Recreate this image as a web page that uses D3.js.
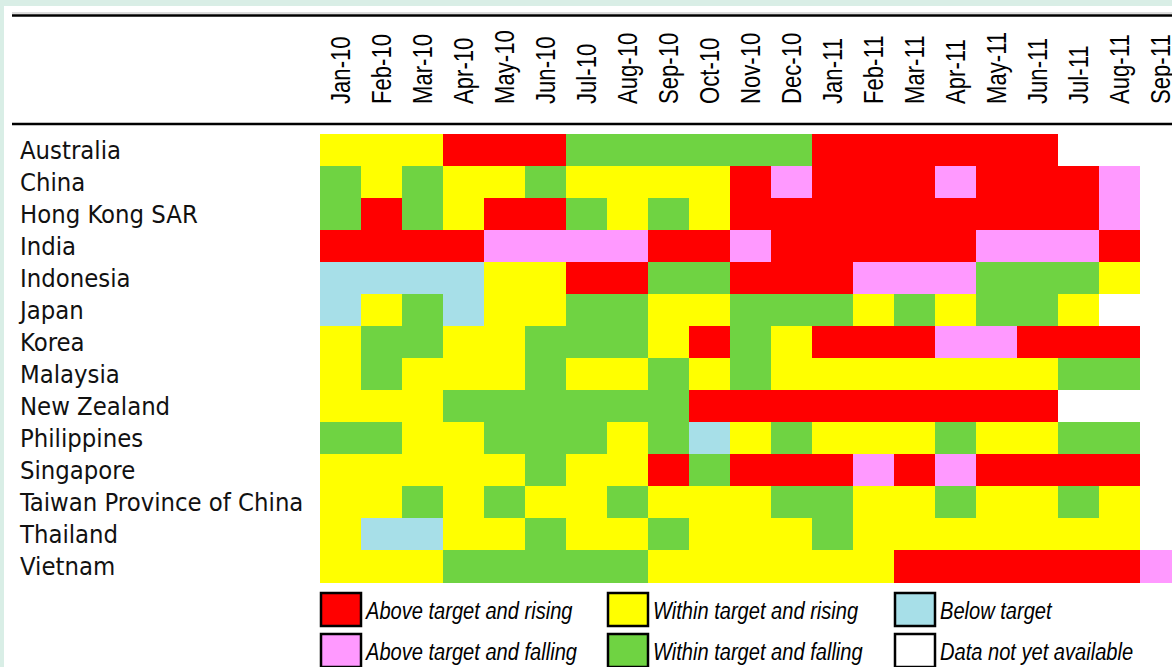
<!DOCTYPE html>
<html>
<head>
<meta charset="utf-8">
<script src="https://cdn.jsdelivr.net/npm/d3@7"></script>
<style>
  html, body { margin: 0; padding: 0; background: #d9eee6; }
  svg { display: block; }
</style>
</head>
<body>
<script>
// months shown across the top
const months = ["Jan-10","Feb-10","Mar-10","Apr-10","May-10","Jun-10","Jul-10","Aug-10","Sep-10","Oct-10","Nov-10","Dec-10",
                "Jan-11","Feb-11","Mar-11","Apr-11","May-11","Jun-11","Jul-11","Aug-11","Sep-11"];

const countries = ["Australia","China","Hong Kong SAR","India","Indonesia","Japan","Korea","Malaysia",
                   "New Zealand","Philippines","Singapore","Taiwan Province of China","Thailand","Vietnam"];

// status codes : AR above & rising, AF above & falling, WR within & rising, WF within & falling, BT below, NA no data
const statusRows = [
  ["WR","WR","WR","AR","AR","AR","WF","WF","WF","WF","WF","WF","AR","AR","AR","AR","AR","AR","NA","NA","NA"],
  ["WF","WR","WF","WR","WR","WF","WR","WR","WR","WR","AR","AF","AR","AR","AR","AF","AR","AR","AR","AF","NA"],
  ["WF","AR","WF","WR","AR","AR","WF","WR","WF","WR","AR","AR","AR","AR","AR","AR","AR","AR","AR","AF","NA"],
  ["AR","AR","AR","AR","AF","AF","AF","AF","AR","AR","AF","AR","AR","AR","AR","AR","AF","AF","AF","AR","NA"],
  ["BT","BT","BT","BT","WR","WR","AR","AR","WF","WF","AR","AR","AR","AF","AF","AF","WF","WF","WF","WR","NA"],
  ["BT","WR","WF","BT","WR","WR","WF","WF","WR","WR","WF","WF","WF","WR","WF","WR","WF","WF","WR","NA","NA"],
  ["WR","WF","WF","WR","WR","WF","WF","WF","WR","AR","WF","WR","AR","AR","AR","AF","AF","AR","AR","AR","NA"],
  ["WR","WF","WR","WR","WR","WF","WR","WR","WF","WR","WF","WR","WR","WR","WR","WR","WR","WR","WF","WF","NA"],
  ["WR","WR","WR","WF","WF","WF","WF","WF","WF","AR","AR","AR","AR","AR","AR","AR","AR","AR","NA","NA","NA"],
  ["WF","WF","WR","WR","WF","WF","WF","WR","WF","BT","WR","WF","WR","WR","WR","WF","WR","WR","WF","WF","NA"],
  ["WR","WR","WR","WR","WR","WF","WR","WR","AR","WF","AR","AR","AR","AF","AR","AF","AR","AR","AR","AR","NA"],
  ["WR","WR","WF","WR","WF","WR","WR","WF","WR","WR","WR","WF","WF","WR","WR","WF","WR","WR","WF","WR","NA"],
  ["WR","BT","BT","WR","WR","WF","WR","WR","WF","WR","WR","WR","WF","WR","WR","WR","WR","WR","WR","WR","NA"],
  ["WR","WR","WR","WF","WF","WF","WF","WF","WR","WR","WR","WR","WR","WR","AR","AR","AR","AR","AR","AR","AF"]
];

// legend, in reading order (column by column)
const legendKeys   = ["AR","AF","WR","WF","BT","NA"];
const legendLabels = ["Above target and rising","Above target and falling","Within target and rising",
                      "Within target and falling","Below target","Data not yet available"];

const colors = { AR: "#ff0000", AF: "#ff99ff", WR: "#ffff00", WF: "#6fd342", BT: "#a7dfe8", NA: "#ffffff" };

const width = 1172, height = 667;
const narrow = 0.82; // squeeze factor to mimic the condensed face of the original
const svg = d3.select("body").append("svg")
    .attr("width", width)
    .attr("height", height);

// white panel
svg.append("rect")
    .attr("x", 4).attr("y", 6)
    .attr("width", width - 4).attr("height", height - 6)
    .attr("fill", "#fff");

// header rules
svg.append("line").attr("x1", 12).attr("x2", width).attr("y1", 13).attr("y2", 13)
    .attr("stroke", "#bbb").attr("stroke-width", 1);
svg.append("line").attr("x1", 12).attr("x2", width).attr("y1", 15.5).attr("y2", 15.5)
    .attr("stroke", "#000").attr("stroke-width", 2.5);
svg.append("line").attr("x1", 12).attr("x2", width).attr("y1", 124).attr("y2", 124)
    .attr("stroke", "#000").attr("stroke-width", 2.5);

const x = d3.scaleBand()
    .domain(months)
    .range([320, 320 + months.length * 41]);
const y = d3.scaleBand()
    .domain(countries)
    .range([134, 134 + countries.length * 32]);

// cells
const cells = [];
countries.forEach((c, i) => {
    statusRows[i].forEach((s, j) => cells.push({ country: c, month: months[j], status: s }));
});

svg.append("g")
    .attr("shape-rendering", "crispEdges")
    .selectAll("rect")
    .data(cells)
    .join("rect")
    .attr("x", d => x(d.month))
    .attr("y", d => y(d.country))
    .attr("width", x.bandwidth() + 0.5)
    .attr("height", y.bandwidth() + 0.5)
    .attr("fill", d => colors[d.status]);

// month labels (rotated, bottoms aligned)
svg.append("g")
    .attr("font-family", "'Liberation Sans', Arial, sans-serif")
    .attr("font-size", 27)
    .attr("fill", "#000")
    .selectAll("text")
    .data(months)
    .join("text")
    .attr("transform", d => `translate(${x(d) + x.bandwidth() / 2},104) rotate(-90) scale(${narrow},1)`)
    .attr("text-anchor", "start")
    .attr("dy", "0.35em")
    .text(d => d);

// country labels
svg.append("g")
    .attr("font-family", "'DejaVu Sans Condensed', 'DejaVu Sans', sans-serif")
    .style("font-stretch", "condensed")
    .attr("font-size", 25.4)
    .attr("fill", "#111")
    .selectAll("text")
    .data(countries)
    .join("text")
    .attr("x", 20)
    .attr("y", d => y(d) + y.bandwidth() / 2)
    .attr("dy", "0.36em")
    .text(d => d);

// legend
const legendCols = [months[0], months[7], months[14]];
const legend = svg.append("g")
    .selectAll("g")
    .data(legendKeys)
    .join("g")
    .attr("transform", (d, i) => `translate(${x(legendCols[Math.floor(i / 2)])},${592 + (i % 2) * 41})`);

legend.append("rect")
    .attr("x", 1).attr("y", 1)
    .attr("width", x.bandwidth() - 1)
    .attr("height", 33)
    .attr("fill", d => colors[d])
    .attr("stroke", "#000")
    .attr("stroke-width", 2.5);

legend.append("text")
    .attr("transform", `translate(${x.bandwidth() + 5},18) scale(${narrow},1)`)
    .attr("dy", "0.35em")
    .attr("font-family", "'Liberation Sans', Arial, sans-serif")
    .attr("font-style", "italic")
    .attr("font-size", 24.5)
    .attr("fill", "#000")
    .text((d, i) => legendLabels[i]);
</script>
</body>
</html>
